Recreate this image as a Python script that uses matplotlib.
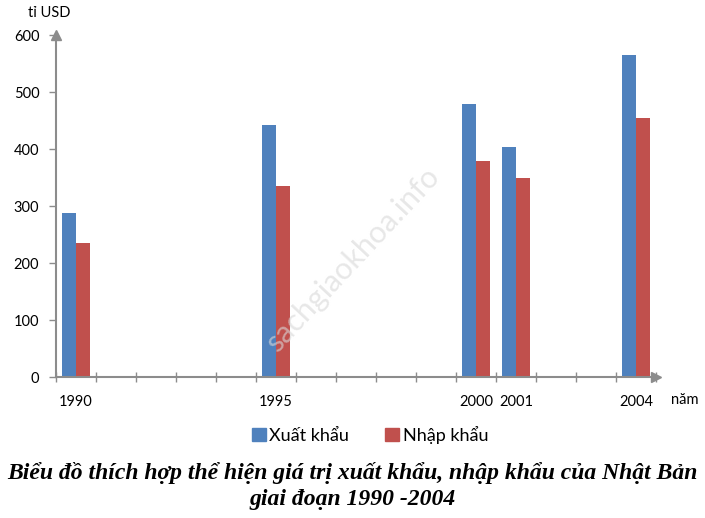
import numpy as np
import matplotlib
matplotlib.use('Agg')
import matplotlib.pyplot as plt
from matplotlib.patches import Patch

# data (billion USD)
years = list(range(1990, 2005))
data_years = [1990, 1995, 2000, 2001, 2004]
export_vals = [287.6, 443.1, 479.2, 403.5, 565.7]
import_vals = [235.4, 335.9, 379.5, 349.1, 454.5]
series_names = ['Xuất khẩu', 'Nhập khẩu']
y_ticks = [0, 100, 200, 300, 400, 500, 600]

blue = '#4F81BD'
red = '#C0504D'
axis_gray = '#8C8C8C'
font = 'Lato'

fig = plt.figure(figsize=(7.05, 5.18), dpi=100)
ax = fig.add_axes([0.0794, 0.272, 0.851, 0.66])

pos = [years.index(y) for y in data_years]
w = 0.36
ax.bar(np.array(pos) - w / 2, export_vals, width=w, color=blue)
ax.bar(np.array(pos) + w / 2, import_vals, width=w, color=red)

ax.set_xlim(-0.5, len(years) - 0.5)
ax.set_ylim(0, 600)

for s in ['top', 'right']:
    ax.spines[s].set_visible(False)
for s in ['left', 'bottom']:
    ax.spines[s].set_color(axis_gray)
    ax.spines[s].set_linewidth(1.5)

# arrows at the ends of the axes
ax.plot(1, 0, '>', transform=ax.transAxes, color=axis_gray, ms=7, clip_on=False)
ax.plot(0, 1, '^', transform=ax.transAxes, color=axis_gray, ms=7, clip_on=False)

ax.set_yticks(y_ticks)
ax.set_yticklabels([str(v) for v in y_ticks], fontsize=10.5, family=font)
ax.tick_params(axis='y', length=5, color=axis_gray, width=1, pad=7)

# tick marks between categories, labels only at data years
ax.set_xticks(np.arange(-0.5, len(years), 1.0))
ax.set_xticklabels([])
ax.tick_params(axis='x', which='major', direction='inout', length=7, color=axis_gray, width=1)
ax.set_xticks(pos, minor=True)
ax.set_xticklabels([str(y) for y in data_years], minor=True, fontsize=10.5, family=font)
ax.tick_params(axis='x', which='minor', length=0, pad=13)

fig.text(0.04, 0.975, 'tỉ USD', fontsize=10.5, family=font, va='center')
fig.text(0.952, 0.228, 'năm', fontsize=10.5, family=font, va='center')

# faint watermark
fig.text(0.50, 0.498, 'sachgiaokhoa.info', fontsize=22, rotation=47, color='#D8D8D8',
         alpha=0.6, ha='center', va='center', family=font, zorder=5)

handles = [Patch(color=blue), Patch(color=red)]
fig.legend(handles, series_names, loc='center', bbox_to_anchor=(0.525, 0.16), ncol=2,
           frameon=False, prop={'family': font, 'size': 13}, handlelength=0.75,
           handleheight=0.75, handletextpad=0.2, columnspacing=2.0)

fig.text(0.5, 0.087, 'Biểu đồ thích hợp thể hiện giá trị xuất khẩu, nhập khẩu của Nhật Bản',
         ha='center', va='center', fontsize=17, family='Liberation Serif',
         weight='bold', style='italic')
fig.text(0.5, 0.035, 'giai đoạn 1990 -2004', ha='center', va='center', fontsize=17,
         family='Liberation Serif', weight='bold', style='italic')

fig.savefig('out.png', dpi=100)
